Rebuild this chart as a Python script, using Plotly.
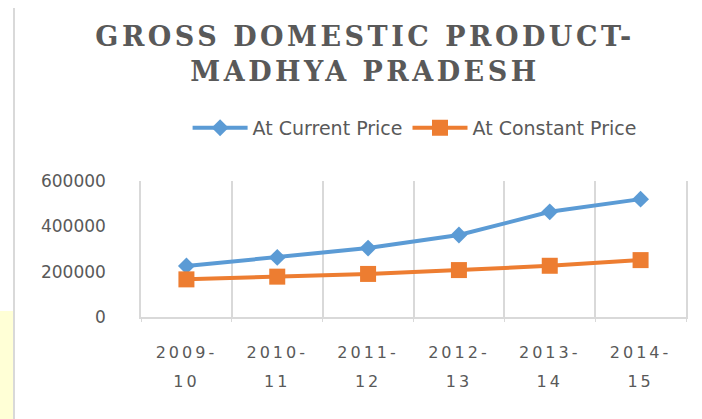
import plotly.graph_objects as go

categories = ["2009-10", "2010-11", "2011-12", "2012-13", "2013-14", "2014-15"]
current_price = [225000, 263000, 304000, 362000, 464000, 520000]
constant_price = [166000, 178000, 190000, 207000, 226000, 251000]
y_ticks = [0, 200000, 400000, 600000]
y_tick_labels = ["0", "200000", "400000", "600000"]

GREY = "#595959"
GRID = "#d9d9d9"

def cat_label(c):
    a, b = c.split("-")
    sty = "font-size:16px;letter-spacing:3px"
    return f"<span style='{sty}'>{a}-</span><br><span style='{sty}'>{b}</span>"

tick_text = [cat_label(c) for c in categories]

fig = go.Figure()
fig.add_trace(go.Scatter(
    x=categories, y=current_price, name="At Current Price",
    mode="lines+markers",
    line=dict(color="#5B9BD5", width=4),
    marker=dict(symbol="diamond", size=13, color="#5B9BD5"),
))
fig.add_trace(go.Scatter(
    x=categories, y=constant_price, name="At Constant Price",
    mode="lines+markers",
    line=dict(color="#ED7D31", width=4),
    marker=dict(symbol="square", size=16, color="#ED7D31"),
))

fig.update_layout(
    width=702, height=419,
    margin=dict(l=141, r=16, t=181, b=102),
    paper_bgcolor="white", plot_bgcolor="white",
    font=dict(family="DejaVu Sans", color=GREY, size=17),
    title=dict(
        text="<span style='letter-spacing:3.5px'>GROSS DOMESTIC PRODUCT-</span><br>"
             "<span style='letter-spacing:3.5px'>MADHYA PRADESH</span>",
        font=dict(family="DejaVu Serif", size=27, color=GREY, weight="bold"),
        x=0.52, xanchor="center", xref="container",
        y=1 - 46 / 419, yanchor="top", yref="container",
    ),
    showlegend=True,
    legend=dict(
        orientation="h", x=0.502, xanchor="center", y=1.39, yanchor="middle",
        font=dict(family="DejaVu Sans", size=19, color=GREY),
        itemwidth=55, bgcolor="rgba(0,0,0,0)",
    ),
    xaxis=dict(
        type="category", range=[-0.5, 5.5],
        tickmode="array", tickvals=categories, ticktext=tick_text,
        tickson="boundaries", showgrid=True, gridcolor=GRID, gridwidth=1.5,
        showline=True, linecolor=GRID, linewidth=1.5,
        ticks="outside", ticklen=3, tickcolor=GRID,
        tickfont=dict(family="DejaVu Sans", size=22, color=GREY),
        ticklabelstandoff=13,
    ),
    yaxis=dict(
        range=[0, 600000], tickvals=y_ticks, ticktext=y_tick_labels,
        showgrid=False, zeroline=False,
        showline=True, mirror=True, linecolor=GRID, linewidth=1.5,
        ticks="", tickfont=dict(family="DejaVu Sans", size=17, color=GREY),
        ticklabelstandoff=30,
    ),
    shapes=[
        dict(type="rect", xref="paper", yref="paper",
             x0=(0 - 141) / 545, x1=(13 - 141) / 545,
             y0=(317 - 419) / 136, y1=(317 - 311) / 136,
             fillcolor="#FFFFD6", line=dict(width=0), layer="below"),
        dict(type="line", xref="paper", yref="paper",
             x0=(14 - 141) / 545, x1=(14 - 141) / 545,
             y0=(317 - 419) / 136, y1=(317 - 8) / 136,
             line=dict(color=GRID, width=2)),
    ],
)

fig.write_html("out.html", config={"displayModeBar": False},
               post_script="document.body.style.margin='0px';")
